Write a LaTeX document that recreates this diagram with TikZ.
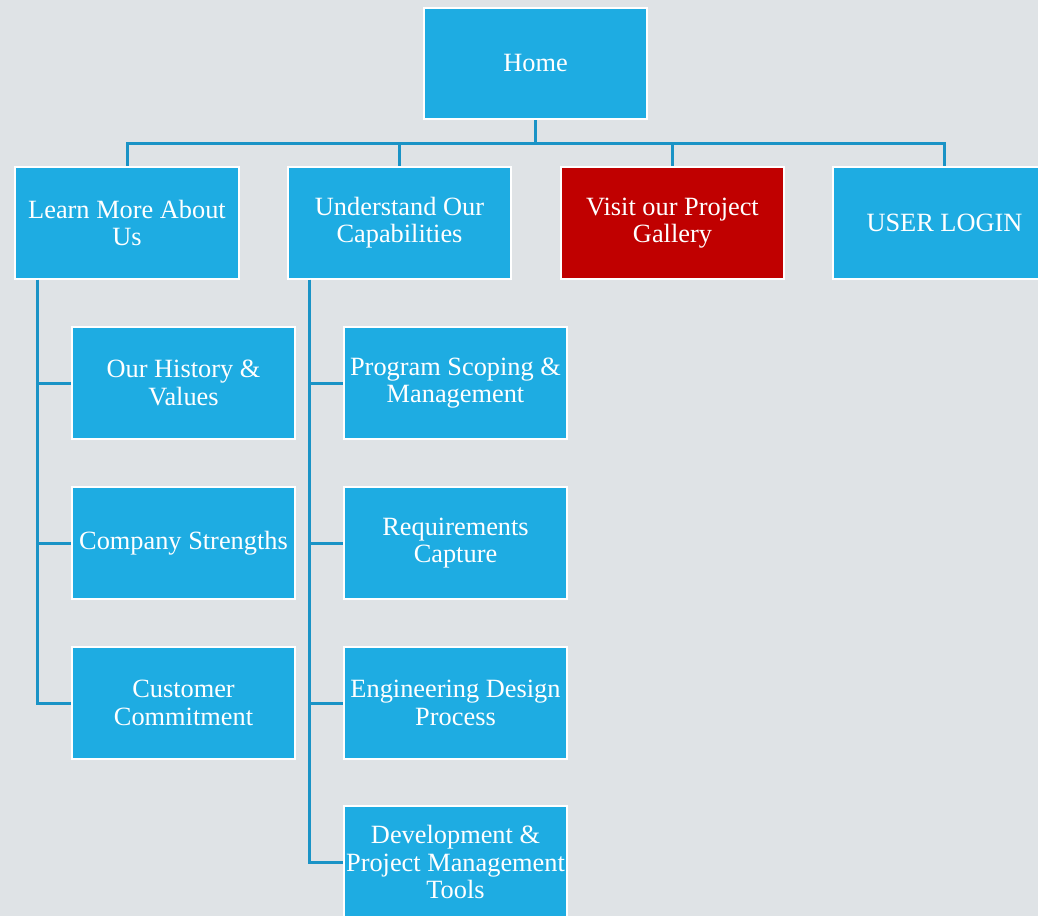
\documentclass[tikz,border=0pt]{standalone}
\usepackage{fontspec}
\setmainfont{Liberation Serif}
\usepackage{xcolor}
\usetikzlibrary{positioning,calc}

\definecolor{pagebg}{HTML}{DFE3E6}
\definecolor{boxblue}{HTML}{1EACE2}
\definecolor{boxred}{HTML}{C00000}
\definecolor{linkblue}{HTML}{1A93C6}

\begin{document}
\begin{tikzpicture}[
  x=0.02cm, y=-0.02cm,
  every node/.style={font=\fontsize{15}{15.5}\selectfont, text=white},
  page/.style ={draw, line width=0.045cm, fill=boxblue, draw=white,
                minimum width=4.47cm, minimum height=2.23cm,
                inner sep=0pt, align=center},
  hot/.style  ={page, fill=boxred},
  link/.style ={draw=linkblue, line width=0.06cm}
]
\useasboundingbox[fill=pagebg] (0,0) rectangle (1038,916);

%% ---- Top ---------------------------------------------------------
\node[page] (home) at (535.5,63.5) {Home};

%% ---- First level -------------------------------------------------
\node[page] (learn)   at (127,223)   {Learn More About\\Us};
\node[page] (capab)   at (399.5,223) {Understand Our\\Capabilities};
\node[hot]  (gallery) at (672.5,223) {Visit our Project\\Gallery};
\node[page] (login)   at (944.5,223) {USER LOGIN};

%% ---- Under "Learn More About Us" ---------------------------------
\node[page] (history)  at (183.5,383) {Our History \&\\Values};
\node[page] (strength) at (183.5,543) {Company Strengths};
\node[page] (commit)   at (183.5,703) {Customer\\Commitment};

%% ---- Under "Understand Our Capabilities" -------------------------
\node[page] (scoping) at (455.5,383) {Program Scoping \&\\Management};
\node[page] (require) at (455.5,543) {Requirements\\Capture};
\node[page] (design)  at (455.5,703) {Engineering Design\\Process};
\node[page] (tools)   at (455.5,862) {Development \&\\Project Management\\Tools};

%% ---- Connectors --------------------------------------------------
\coordinate (bus) at (535.5,143);
\draw[link] (home.south) -- (bus);
\foreach \n in {learn,capab,gallery,login}
  \draw[link] (bus) -| (\n.north);

\coordinate (learnrail) at ([xshift=0.46cm]learn.south west);
\foreach \n in {history,strength,commit}
  \draw[link] (learnrail) |- (\n.west);

\coordinate (capabrail) at ([xshift=0.46cm]capab.south west);
\foreach \n in {scoping,require,design,tools}
  \draw[link] (capabrail) |- (\n.west);

\end{tikzpicture}
\end{document}
